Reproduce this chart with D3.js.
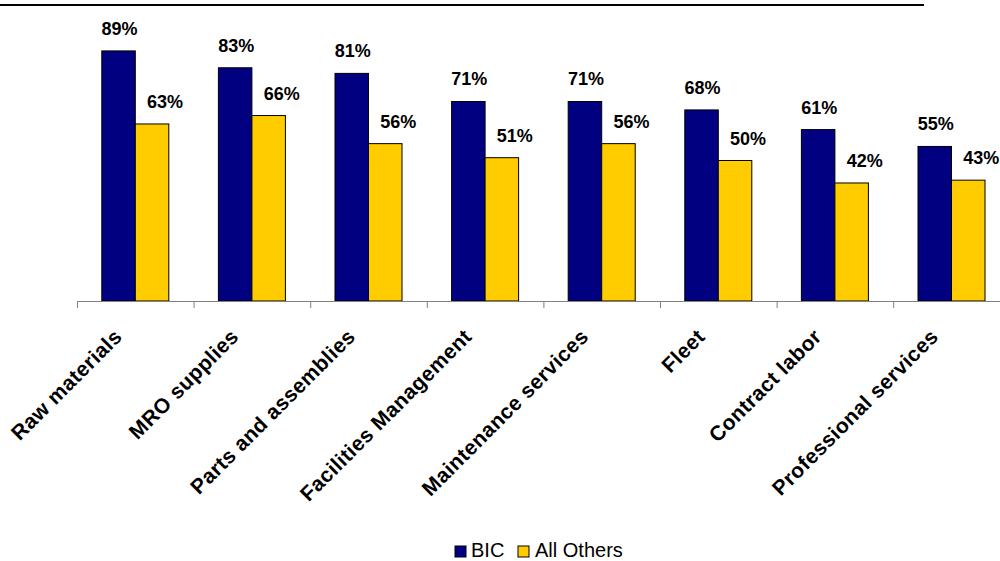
<!DOCTYPE html>
<html>
<head>
<meta charset="utf-8">
<script src="https://cdn.jsdelivr.net/npm/d3@7"></script>
<style>
  html, body { margin: 0; padding: 0; background: #fff; }
  svg { display: block; font-family: "Liberation Sans", Arial, sans-serif; }
</style>
</head>
<body>
<svg id="chart" width="1000" height="561"></svg>
<script>
// Share of spend categories, BIC vs. all others
const categories = [
  "Raw materials", "MRO supplies", "Parts and assemblies", "Facilities Management",
  "Maintenance services", "Fleet", "Contract labor", "Professional services"
];
const seriesNames = ["BIC", "All Others"];
const bicValues = [89, 83, 81, 71, 71, 68, 61, 55];
const otherValues = [63, 66, 56, 51, 56, 50, 42, 43];
const seriesColors = ["#000080", "#FFCC00"];

const svg = d3.select("#chart");

const baseY = 301;
const left = 77;
const step = 116.6;

const x = d3.scaleBand()
  .domain(categories)
  .range([left, left + step * categories.length])
  .paddingInner(0).paddingOuter(0);

const xInner = d3.scaleBand()
  .domain(seriesNames)
  .range([0, x.bandwidth()])
  .paddingInner(0).paddingOuter(0.74);

const y = d3.scaleLinear().domain([0, 100]).range([baseY, 20]);

// top rule
svg.append("line")
  .attr("x1", 0).attr("x2", 924)
  .attr("y1", 5).attr("y2", 5)
  .attr("stroke", "#000").attr("stroke-width", 2);

const rows = categories.map((c, i) => ({ cat: c, values: [bicValues[i], otherValues[i]] }));

const groups = svg.append("g").selectAll("g")
  .data(rows).join("g")
  .attr("transform", d => `translate(${x(d.cat)},0)`);

groups.selectAll("rect")
  .data(d => d.values.map((v, k) => ({ key: seriesNames[k], v, k })))
  .join("rect")
  .attr("x", d => xInner(d.key))
  .attr("y", d => y(d.v))
  .attr("width", xInner.bandwidth())
  .attr("height", d => baseY - y(d.v))
  .attr("fill", d => seriesColors[d.k])
  .attr("stroke", "#000")
  .attr("stroke-width", 1);

// value labels
const labelShift = [1, 13];
groups.selectAll("text.val")
  .data(d => d.values.map((v, k) => ({ key: seriesNames[k], v, k })))
  .join("text")
  .attr("class", "val")
  .attr("x", d => xInner(d.key) + xInner.bandwidth() / 2 + labelShift[d.k])
  .attr("y", d => y(d.v) - 16)
  .attr("text-anchor", "middle")
  .attr("font-size", 18)
  .attr("font-weight", "bold")
  .attr("fill", "#000")
  .text(d => d.v + "%");

// category axis: gray baseline with ticks at band edges
const axisScale = d3.scaleLinear()
  .domain([0, categories.length])
  .range([left, left + step * categories.length]);

const axis = svg.append("g")
  .attr("transform", `translate(0,${baseY})`)
  .call(d3.axisBottom(axisScale)
    .tickValues(d3.range(0, categories.length + 1))
    .tickSize(7)
    .tickSizeOuter(0)
    .tickFormat(""));
axis.select(".domain").attr("stroke", "#808080");
axis.selectAll(".tick line").attr("stroke", "#808080");

svg.append("g").selectAll("text")
  .data(categories).join("text")
  .attr("transform", d => `translate(${x(d) + x.bandwidth() / 2 - 12},338) rotate(-45)`)
  .attr("text-anchor", "end")
  .attr("font-size", 21)
  .attr("letter-spacing", 0.4)
  .attr("font-weight", "bold")
  .attr("fill", "#000")
  .text(d => d);

// legend
const legendItems = [
  { name: seriesNames[0], color: seriesColors[0], sx: 455, tx: 471 },
  { name: seriesNames[1], color: seriesColors[1], sx: 518, tx: 535 }
];
const legend = svg.append("g");
legend.selectAll("rect").data(legendItems).join("rect")
  .attr("x", d => d.sx).attr("y", 546)
  .attr("width", 11).attr("height", 11)
  .attr("fill", d => d.color)
  .attr("stroke", "#000").attr("stroke-width", 1);
legend.selectAll("text").data(legendItems).join("text")
  .attr("x", d => d.tx).attr("y", 557)
  .attr("font-size", 20)
  .attr("fill", "#000")
  .text(d => d.name);
</script>
</body>
</html>
